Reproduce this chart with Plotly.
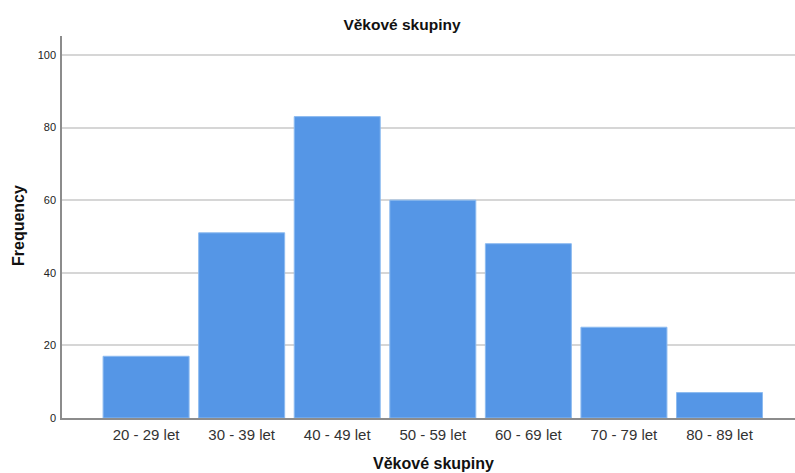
import plotly.graph_objects as go

categories = ["20 - 29 let", "30 - 39 let", "40 - 49 let", "50 - 59 let",
              "60 - 69 let", "70 - 79 let", "80 - 89 let"]
frequency = [17, 51, 83, 60, 48, 25, 7]
y_ticks = [0, 20, 40, 60, 80, 100]

W, H = 795, 473
ml, mr, mt, mb = 62, 0, 36, 55

fig = go.Figure(go.Bar(
    x=list(range(len(categories))), y=frequency,
    marker=dict(color="#5596E6", line=dict(color="#8DBBF0", width=1)),
    hoverinfo="skip",
))

fig.update_layout(
    width=W, height=H,
    margin=dict(l=ml, r=mr, t=mt, b=mb, pad=0),
    paper_bgcolor="white", plot_bgcolor="white",
    bargap=0.1,
    showlegend=False,
    font=dict(family="Liberation Sans, Arial, sans-serif", color="#222"),
    title=dict(text="<b>Věkové skupiny</b>", x=402 / W, xanchor="center",
               y=1 - 25 / H, yref="container", yanchor="middle",
               font=dict(size=15.5, color="#111")),
)

fig.update_xaxes(
    range=[-0.88, 6.79],
    tickmode="array", tickvals=list(range(len(categories))), ticktext=categories,
    tickfont=dict(size=15, color="#333"),
    showgrid=False, zeroline=False,
    showline=True, linecolor="#8c8c8c", linewidth=1.5,
    ticks="", ticklabelstandoff=2,
)
fig.update_yaxes(
    range=[0, 105.2],
    tickmode="array", tickvals=y_ticks, ticktext=[str(v) for v in y_ticks],
    tickfont=dict(size=11, color="#222"),
    showgrid=True, gridcolor="#d6d6d6", gridwidth=1.5,
    zeroline=False,
    showline=True, linecolor="#8c8c8c", linewidth=1.5,
    ticks="", ticklabelstandoff=2,
)

fig.add_annotation(text="<b>Frequency</b>", xref="paper", yref="paper",
                   x=-44 / (W - ml - mr), y=(418 - 226) / (418 - 36),
                   xanchor="center", yanchor="middle",
                   textangle=-90, showarrow=False, font=dict(size=16, color="#111"))
fig.add_annotation(text="<b>Věkové skupiny</b>", xref="paper", yref="paper",
                   x=(433 - ml) / (W - ml - mr), y=-(463 - (H - mb)) / (H - mt - mb),
                   xanchor="center", yanchor="middle",
                   showarrow=False, font=dict(size=16, color="#111"))

fig.write_html("out.html", config={"displayModeBar": False},
               post_script="document.body.style.margin='0';document.body.style.padding='0';")
